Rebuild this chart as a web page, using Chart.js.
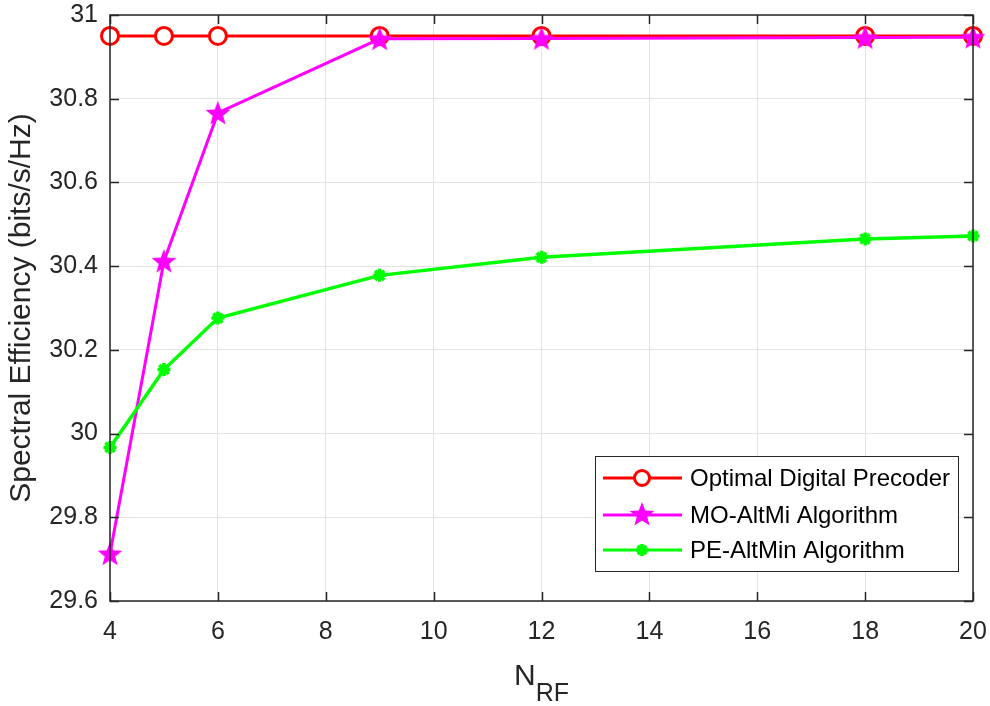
<!DOCTYPE html>
<html>
<head>
<meta charset="utf-8">
<script src="https://cdn.jsdelivr.net/npm/chart.js@4/dist/chart.umd.min.js"></script>
<style>
  html, body { margin: 0; padding: 0; background: #fff; }
  #wrap { width: 990px; height: 706px; }
</style>
</head>
<body>
<div id="wrap"><canvas id="c" width="990" height="706"></canvas></div>
<script>
// data
const nRF = [4, 5, 6, 9, 12, 18, 20];
const optimalSE = [30.95, 30.95, 30.95, 30.95, 30.95, 30.95, 30.95];
const moAltMinSE = [29.713, 30.412, 30.766, 30.943, 30.944, 30.946, 30.947];
const peAltMinSE = [29.967, 30.153, 30.276, 30.378, 30.421, 30.465, 30.472];

const xTicks = [4, 6, 8, 10, 12, 14, 16, 18, 20];
const yTicks = [29.6, 29.8, 30, 30.2, 30.4, 30.6, 30.8, 31];

const seriesNames = ['Optimal Digital Precoder', 'MO-AltMi Algorithm', 'PE-AltMin Algorithm'];
const seriesColors = ['#ff0000', '#ff00ff', '#00ff00'];

const FONT = 'Arial, "Liberation Sans", Helvetica, sans-serif';
const AXIS_COLOR = '#262626';

/* marker images */
function starMarker(size, color) {
  const cv = document.createElement('canvas');
  cv.width = size; cv.height = size;
  const g = cv.getContext('2d');
  const cx = size / 2, cy = size / 2 + 1, R = size / 2, r = R * 0.42;
  g.beginPath();
  for (let i = 0; i < 10; i++) {
    const a = -Math.PI / 2 + i * Math.PI / 5;
    const rr = i % 2 === 0 ? R : r;
    g.lineTo(cx + rr * Math.cos(a), cy + rr * Math.sin(a));
  }
  g.closePath();
  g.fillStyle = color;
  g.fill();
  return cv;
}
const starImg = starMarker(26, '#ff00ff');

function toPts(ys) {
  return nRF.map((x, i) => ({ x: x, y: ys[i] }));
}

function drawAsterisk(ctx, x, y, r) {
  ctx.beginPath();
  for (let k = 0; k < 4; k++) {
    const ang = k * Math.PI / 4;
    ctx.moveTo(x - r * Math.cos(ang), y - r * Math.sin(ang));
    ctx.lineTo(x + r * Math.cos(ang), y + r * Math.sin(ang));
  }
  ctx.stroke();
}

/* kutu, iceri bakan tikler ve lejant */
const boxPlugin = {
  id: 'boxPlugin',
  afterDraw(chart) {
    const ctx = chart.ctx;
    const a = chart.chartArea;
    const xs = chart.scales.x, ys = chart.scales.y;
    ctx.save();
    ctx.strokeStyle = AXIS_COLOR;
    ctx.lineWidth = 1.5;
    ctx.strokeRect(a.left, a.top, a.right - a.left, a.bottom - a.top);
    const tl = 9;
    ctx.beginPath();
    xTicks.forEach(v => {
      const px = Math.round(xs.getPixelForValue(v)) + 0.5;
      ctx.moveTo(px, a.bottom); ctx.lineTo(px, a.bottom - tl);
      ctx.moveTo(px, a.top); ctx.lineTo(px, a.top + tl);
    });
    yTicks.forEach(v => {
      const py = Math.round(ys.getPixelForValue(v)) + 0.5;
      ctx.moveTo(a.left, py); ctx.lineTo(a.left + tl, py);
      ctx.moveTo(a.right, py); ctx.lineTo(a.right - tl, py);
    });
    ctx.stroke();

    // x label N_RF
    ctx.fillStyle = AXIS_COLOR;
    ctx.textBaseline = 'alphabetic';
    ctx.textAlign = 'left';
    ctx.font = '30px ' + FONT;
    const nW = ctx.measureText('N').width;
    ctx.font = '25px ' + FONT;
    const sW = ctx.measureText('RF').width;
    const cx = (a.left + a.right) / 2;
    const x0 = cx - (nW + sW) / 2;
    ctx.font = '30px ' + FONT;
    ctx.fillText('N', x0, 685);
    ctx.font = '25px ' + FONT;
    ctx.fillText('RF', x0 + nW, 701);

    // legend
    const lx = 595, ly = 456, lw = 363, lh = 115;
    ctx.fillStyle = '#fff';
    ctx.fillRect(lx, ly, lw, lh);
    ctx.strokeStyle = AXIS_COLOR;
    ctx.lineWidth = 1;
    ctx.strokeRect(lx + 0.5, ly + 0.5, lw, lh);
    const rows = [478, 515, 550];
    rows.forEach((ry, i) => {
      ctx.strokeStyle = seriesColors[i];
      ctx.lineWidth = 3;
      ctx.beginPath();
      ctx.moveTo(603, ry); ctx.lineTo(682, ry);
      ctx.stroke();
      if (i === 0) {
        ctx.beginPath();
        ctx.arc(642, ry, 7.5, 0, Math.PI * 2);
        ctx.fillStyle = '#fff';
        ctx.fill();
        ctx.stroke();
      } else if (i === 1) {
        ctx.drawImage(starImg, 642 - 13, ry - 14);
      } else {
        ctx.lineWidth = 3.5;
        drawAsterisk(ctx, 642, ry, 6);
      }
      ctx.fillStyle = '#000';
      ctx.font = '24px ' + FONT;
      ctx.textBaseline = 'middle';
      ctx.fillText(seriesNames[i], 690, ry + 1);
    });
    ctx.restore();
  }
};

new Chart(document.getElementById('c'), {
  type: 'line',
  data: {
    datasets: [
      {
        label: seriesNames[0],
        data: toPts(optimalSE),
        borderColor: seriesColors[0],
        borderWidth: 3,
        pointStyle: 'circle',
        pointRadius: 8.5,
        pointBorderWidth: 3,
        pointBorderColor: seriesColors[0],
        pointBackgroundColor: '#fff',
        order: 3
      },
      {
        label: seriesNames[1],
        data: toPts(moAltMinSE),
        borderColor: seriesColors[1],
        borderWidth: 3,
        pointStyle: starImg,
        pointRadius: 12,
        order: 2
      },
      {
        label: seriesNames[2],
        data: toPts(peAltMinSE),
        borderColor: seriesColors[2],
        borderWidth: 3.5,
        pointStyle: 'star',
        pointRadius: 6.5,
        pointBorderWidth: 3.5,
        pointBorderColor: seriesColors[2],
        pointBackgroundColor: seriesColors[2],
        order: 1
      }
    ]
  },
  options: {
    responsive: false,
    animation: false,
    clip: false,
    layout: { padding: { top: 15, right: 17, left: 0, bottom: 0 } },
    plugins: {
      legend: { display: false },
      tooltip: { enabled: false }
    },
    scales: {
      x: {
        type: 'linear',
        min: 4, max: 20,
        afterFit: s => { s.height = 105; s.paddingLeft = 0; s.paddingRight = 0; },
        afterBuildTicks: s => { s.ticks = xTicks.map(v => ({ value: v })); },
        grid: { color: '#e3e3e3', lineWidth: 1, drawTicks: false },
        border: { display: false },
        ticks: {
          color: AXIS_COLOR,
          font: { family: FONT, size: 25 },
          padding: 16,
          maxRotation: 0
        }
      },
      y: {
        min: 29.6, max: 31,
        afterFit: s => { s.width = 110; s.paddingTop = 0; s.paddingBottom = 0; },
        afterBuildTicks: s => { s.ticks = yTicks.map(v => ({ value: v })); },
        grid: { color: '#e3e3e3', lineWidth: 1, drawTicks: false },
        border: { display: false },
        ticks: {
          color: AXIS_COLOR,
          font: { family: FONT, size: 25 },
          padding: 12,
          callback: v => String(Number(v.toFixed(1)))
        },
        title: {
          display: true,
          text: 'Spectral Efficiency (bits/s/Hz)',
          color: AXIS_COLOR,
          font: { family: FONT, size: 30 },
          padding: { top: 4, bottom: 0 }
        }
      }
    }
  },
  plugins: [boxPlugin]
});
</script>
</body>
</html>
